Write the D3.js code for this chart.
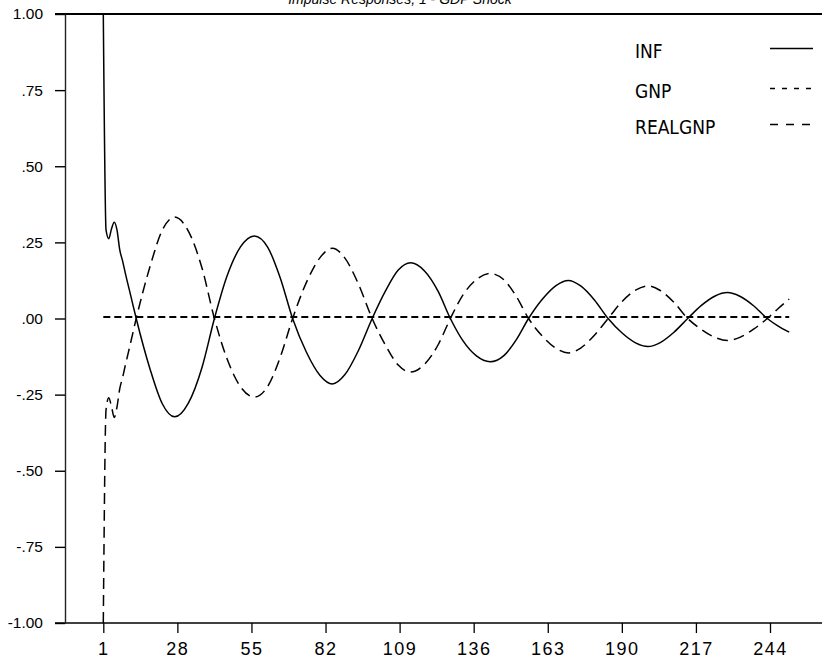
<!DOCTYPE html>
<html>
<head>
<meta charset="utf-8">
<script src="https://cdn.jsdelivr.net/npm/d3@7"></script>
<style>
  body { margin: 0; background: #fff; }
  svg { display: block; background: #fff; }
</style>
</head>
<body>
<div id="graph"></div>
<script>
// periods after the shock
var period = [1, 2, 3, 4, 5, 6, 7, 8, 9, 11, 13,
  18, 22.5, 27, 32, 37, 41.5,
  46, 51, 56, 61, 65.5, 70,
  75, 80, 84.5, 89, 94, 99,
  104, 108.5, 113, 118, 123, 127.5,
  132, 137, 142, 147, 151.5, 156,
  161, 166, 170.5, 175, 180, 185,
  190, 195, 199.5, 204, 209, 214,
  219, 224, 228.5, 233, 238, 243,
  247, 251];

var inf = [1.00, 0.29, 0.262, 0.295, 0.316, 0.29, 0.225, 0.19, 0.15, 0.075, 0.0,
  -0.165, -0.28, -0.323, -0.278, -0.16, 0.0,
  0.137, 0.235, 0.271, 0.233, 0.133, 0.0,
  -0.11, -0.187, -0.215, -0.185, -0.105, 0.0,
  0.093, 0.159, 0.183, 0.157, 0.09, 0.0,
  -0.072, -0.123, -0.142, -0.122, -0.07, 0.0,
  0.063, 0.108, 0.125, 0.107, 0.061, 0.0,
  -0.047, -0.08, -0.092, -0.079, -0.045, 0.0,
  0.043, 0.074, 0.085, 0.073, 0.042, 0.0,
  -0.025, -0.045];

var realgnp = [-1.00, -0.30, -0.26, -0.29, -0.325, -0.29, -0.23, -0.195, -0.155, -0.078, 0.0,
  0.17, 0.29, 0.333, 0.287, 0.165, 0.0,
  -0.13, -0.224, -0.258, -0.222, -0.127, 0.0,
  0.118, 0.2, 0.231, 0.199, 0.113, 0.0,
  -0.09, -0.153, -0.176, -0.151, -0.087, 0.0,
  0.076, 0.128, 0.148, 0.127, 0.073, 0.0,
  -0.058, -0.098, -0.113, -0.097, -0.055, 0.0,
  0.055, 0.093, 0.107, 0.092, 0.053, 0.0,
  -0.036, -0.062, -0.072, -0.062, -0.035, 0.0,
  0.033, 0.064];

var gnpPeriod = [1, 251];
var gnp = [0.005, 0.005];

var xTicks = [1, 28, 55, 82, 109, 136, 163, 190, 217, 244];
var yTicks = [1, 0.75, 0.5, 0.25, 0, -0.25, -0.5, -0.75, -1];
var yLabels = ["1.00", ".75", ".50", ".25", ".00", "-.25", "-.50", "-.75", "-1.00"];

var seriesNames = ["INF", "GNP", "REALGNP"];
var title = "Impulse Responses, 1 - GDP Shock";

var svg = d3.select("#graph").append("svg")
    .attr("width", 825).attr("height", 663);

var x = d3.scaleLinear().domain([1, 244]).range([103.3, 770]);
var y = d3.scaleLinear().domain([-1, 1]).range([623, 14]);

// frame lines top and bottom
svg.append("line").attr("x1", 55).attr("x2", 822).attr("y1", 14).attr("y2", 14)
    .style("stroke", "#000").style("stroke-width", 2);
svg.append("line").attr("x1", 55).attr("x2", 822).attr("y1", 623).attr("y2", 623)
    .style("stroke", "#000").style("stroke-width", 1.6);

// y axis
var yAxis = d3.axisLeft(y)
    .tickValues(yTicks)
    .tickSize(10)
    .tickSizeOuter(0)
    .tickPadding(12)
    .tickFormat(function(d, i) { return yLabels[i]; });
var gy = svg.append("g").attr("transform", "translate(65,0)").call(yAxis);
gy.select(".domain").style("stroke", "#222").style("stroke-width", 1.4);
gy.selectAll(".tick line").style("stroke", "#000").style("stroke-width", 1.4);
gy.selectAll("text")
    .style("font-family", "'Liberation Sans', Arial, sans-serif")
    .style("font-size", "15.5px")
    .style("fill", "#000");

// x axis
var xAxis = d3.axisBottom(x)
    .tickValues(xTicks)
    .tickSize(10)
    .tickSizeOuter(0)
    .tickPadding(9)
    .tickFormat(d3.format("d"));
var gx = svg.append("g").attr("transform", "translate(0,623)").call(xAxis);
gx.select(".domain").remove();
gx.selectAll(".tick line").style("stroke", "#000").style("stroke-width", 1.3);
gx.selectAll("text")
    .style("font-family", "'Liberation Sans', Arial, sans-serif")
    .style("font-size", "18px")
    .style("letter-spacing", "1.5px")
    .style("fill", "#000");

// title, cut off at the top as in the original print
svg.append("text")
    .attr("x", 400).attr("y", 4)
    .attr("text-anchor", "middle")
    .style("font-family", "'Liberation Sans', Arial, sans-serif")
    .style("font-style", "italic")
    .style("font-size", "14px")
    .text(title);

var line = d3.line()
    .x(function(d) { return x(d[0]); })
    .y(function(d) { return y(d[1]); })
    .curve(d3.curveMonotoneX);

var infPts = period.map(function(p, i) { return [p, inf[i]]; });
var realPts = period.map(function(p, i) { return [p, realgnp[i]]; });
var gnpPts = gnpPeriod.map(function(p, i) { return [p, gnp[i]]; });

svg.append("path").datum(gnpPts).attr("d", line)
    .style("fill", "none").style("stroke", "#000").style("stroke-width", 1.8)
    .style("stroke-dasharray", "7,4");
svg.append("path").datum(realPts).attr("d", line)
    .style("fill", "none").style("stroke", "#000").style("stroke-width", 1.5)
    .style("stroke-dasharray", "11,6");
svg.append("path").datum(infPts).attr("d", line)
    .style("fill", "none").style("stroke", "#000").style("stroke-width", 1.5);

// legend
var legDash = ["none", "5,7", "8,8"];
var legY = [51.5, 91.5, 127.5];
svg.selectAll("legtext")
    .data(seriesNames)
    .enter()
    .append("text")
        .attr("x", 635)
        .attr("y", function(d, i) { return legY[i]; })
        .attr("dy", "0.36em")
        .style("font-family", "'Liberation Sans Narrow', 'DejaVu Sans Condensed', sans-serif")
        .style("font-size", "19px")
        .style("fill", "#000")
        .text(function(d) { return d; });
svg.selectAll("legline")
    .data(seriesNames)
    .enter()
    .append("line")
        .attr("x1", 770).attr("x2", 813)
        .attr("y1", function(d, i) { return legY[i] - 3; })
        .attr("y2", function(d, i) { return legY[i] - 3; })
        .style("stroke", "#000")
        .style("stroke-width", 1.7)
        .style("stroke-dasharray", function(d, i) { return legDash[i]; });
</script>
</body>
</html>
